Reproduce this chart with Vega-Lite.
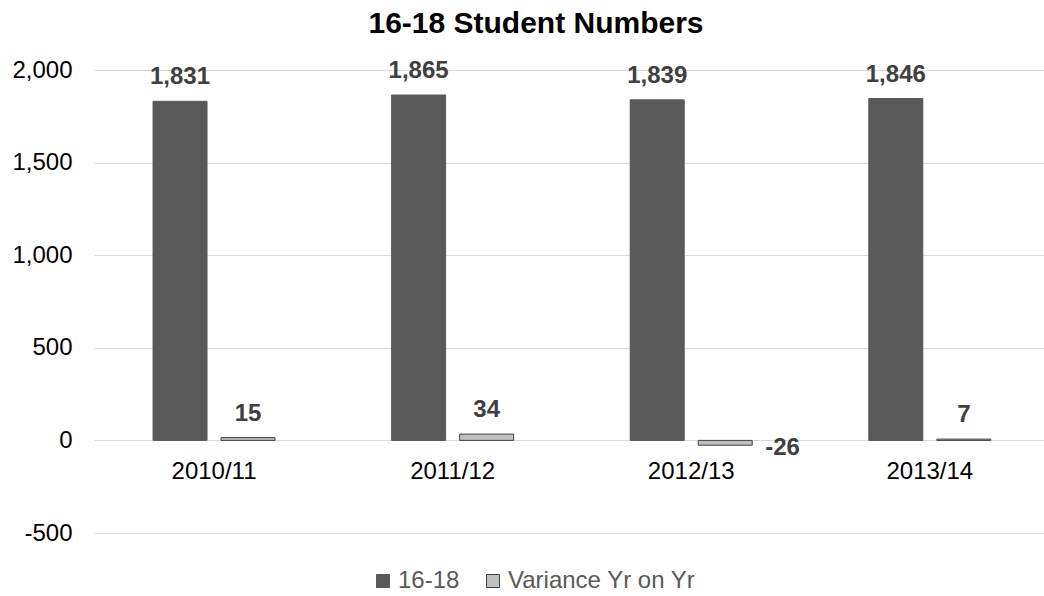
{
  "$schema": "https://vega.github.io/schema/vega-lite/v6.json",
  "autosize": {"type": "none"},
  "padding": {"left": 94, "top": 70, "right": 0, "bottom": 63},
  "width": 950,
  "height": 463,
  "background": "white",
  "config": {
    "font": "Liberation Sans",
    "view": {"stroke": null}
  },
  "title": {
    "text": "16-18 Student Numbers",
    "fontSize": 30,
    "fontWeight": "bold",
    "color": "#000000",
    "anchor": "middle",
    "frame": "group",
    "dx": -33,
    "offset": 19
  },
  "data": {
    "values": [
      {"year": "2010/11", "series": "16-18", "value": 1831},
      {"year": "2010/11", "series": "Variance Yr on Yr", "value": 15},
      {"year": "2011/12", "series": "16-18", "value": 1865},
      {"year": "2011/12", "series": "Variance Yr on Yr", "value": 34},
      {"year": "2012/13", "series": "16-18", "value": 1839},
      {"year": "2012/13", "series": "Variance Yr on Yr", "value": -26},
      {"year": "2013/14", "series": "16-18", "value": 1846},
      {"year": "2013/14", "series": "Variance Yr on Yr", "value": 7}
    ]
  },
  "encoding": {
    "x": {
      "field": "year",
      "type": "nominal",
      "sort": null,
      "scale": {"paddingInner": 0.4887, "paddingOuter": 0.2352, "align": 0.526},
      "axis": {
        "title": null,
        "orient": "bottom",
        "offset": -93,
        "domain": false,
        "ticks": false,
        "tickSize": 0,
        "grid": false,
        "labelAngle": 0,
        "labelFontSize": 24,
        "labelColor": "#000000",
        "labelPadding": 19
      }
    },
    "xOffset": {
      "field": "series",
      "type": "nominal",
      "scale": {"paddingInner": 0.206, "paddingOuter": 0}
    },
    "y": {
      "field": "value",
      "type": "quantitative",
      "scale": {"domain": [-500, 2000], "nice": false, "zero": false},
      "axis": {
        "title": null,
        "values": [-500, 0, 500, 1000, 1500, 2000],
        "labelExpr": "datum.value < 0 ? '-' + format(-datum.value, ',d') : format(datum.value, ',d')",
        "domain": false,
        "ticks": false,
        "tickSize": 0,
        "grid": true,
        "gridColor": "#D9D9D9",
        "gridWidth": 1,
        "labelFontSize": 24,
        "labelColor": "#000000",
        "labelPadding": 22
      }
    }
  },
  "layer": [
    {
      "mark": {"type": "bar", "strokeWidth": 1},
      "encoding": {
        "color": {
          "field": "series",
          "type": "nominal",
          "scale": {"domain": ["16-18", "Variance Yr on Yr"], "range": ["#595959", "#BFBFBF"]},
          "legend": {
            "title": null,
            "orient": "none",
            "direction": "horizontal",
            "legendX": 277,
            "legendY": 499,
            "padding": 0,
            "labelFontSize": 24,
            "labelColor": "#595959",
            "labelLimit": 0,
            "symbolType": "square",
            "symbolSize": 169,
            "symbolStrokeWidth": 1,
            "labelOffset": 3,
            "columnPadding": 21
          }
        },
        "stroke": {
          "field": "series",
          "type": "nominal",
          "scale": {"domain": ["16-18", "Variance Yr on Yr"], "range": ["#595959", "#404040"]},
          "legend": null
        }
      }
    },
    {
      "transform": [
        {"filter": "datum.value >= 0"},
        {"calculate": "format(datum.value, ',d')", "as": "label"}
      ],
      "mark": {"type": "text", "fontSize": 24, "fontWeight": "bold", "color": "#404040", "baseline": "alphabetic", "dy": -17},
      "encoding": {
        "text": {"field": "label", "type": "nominal"}
      }
    },
    {
      "transform": [
        {"filter": "datum.value < 0"},
        {"calculate": "'-' + format(-datum.value, ',d')", "as": "label"}
      ],
      "mark": {"type": "text", "fontSize": 24, "fontWeight": "bold", "color": "#404040", "baseline": "alphabetic", "align": "left", "dx": 40, "dy": 10},
      "encoding": {
        "text": {"field": "label", "type": "nominal"}
      }
    }
  ]
}
